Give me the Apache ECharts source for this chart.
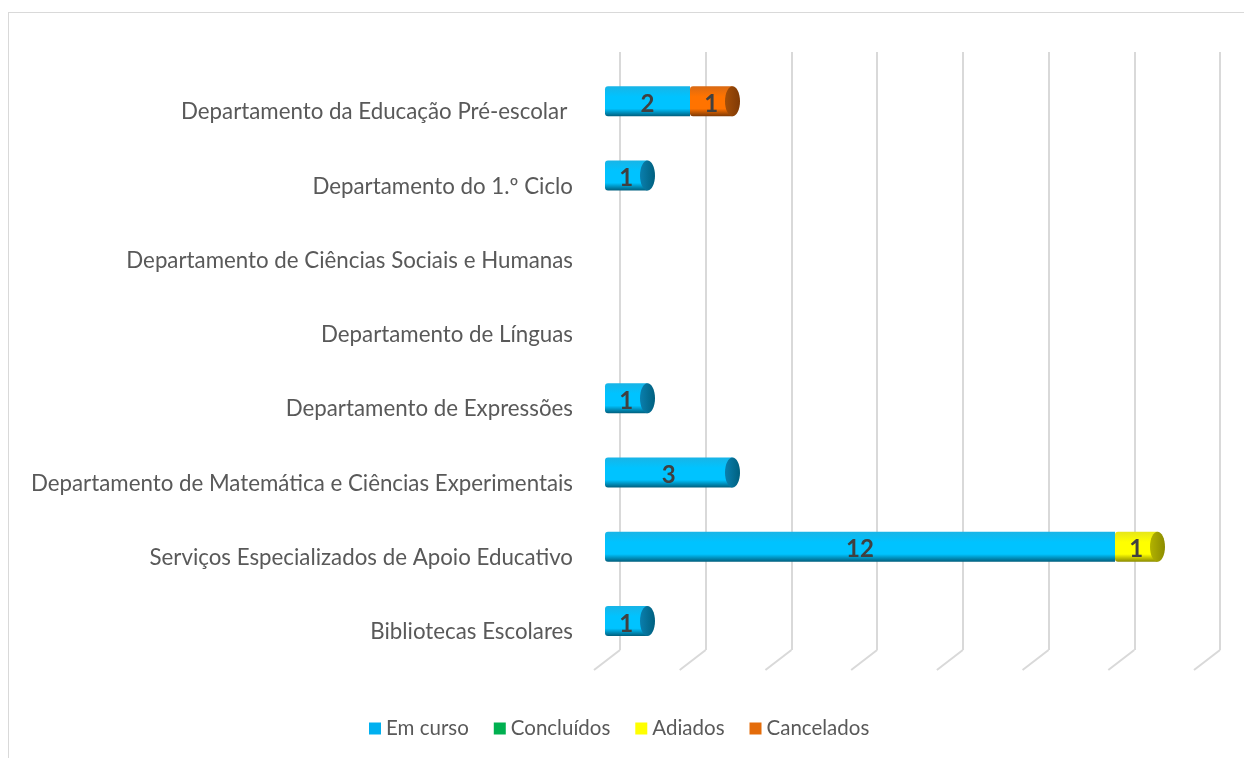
<!DOCTYPE html>
<html>
<head>
<meta charset="utf-8">
<script src="https://cdn.jsdelivr.net/npm/echarts@6/dist/echarts.min.js"></script>
<style>
  html, body { margin: 0; padding: 0; background: #fff; overflow: hidden; }
  #frame { position: absolute; left: 8px; top: 12px; width: 1400px; height: 900px; border: 1px solid #d9d9d9; box-sizing: border-box; }
  #main { position: absolute; left: 0; top: 0; width: 1244px; height: 758px; }
</style>
</head>
<body>
<div id="frame"></div>
<div id="main"></div>
<script>
const categories = [
  'Departamento da Educação Pré-escolar ',
  'Departamento do 1.º Ciclo',
  'Departamento de Ciências Sociais e Humanas',
  'Departamento de Línguas',
  'Departamento de Expressões',
  'Departamento de Matemática e Ciências Experimentais',
  'Serviços Especializados de Apoio Educativo',
  'Bibliotecas Escolares'
];
const seriesNames = ['Em curso', 'Concluídos', 'Adiados', 'Cancelados'];
const emCurso = [2, 1, 0, 0, 1, 3, 12, 1];
const concluidos = [0, 0, 0, 0, 0, 0, 0, 0];
const adiados = [0, 0, 0, 0, 0, 0, 1, 0];
const cancelados = [1, 0, 0, 0, 0, 0, 0, 0];
const gridTicks = [0, 2, 4, 6, 8, 10, 12, 14];

const FONT = 'Lato';
const FLAT = ['#00B0F0', '#00B050', '#FFFF00', '#E46C0A'];
const SHADE = [
  ['#19b4e6', '#00c3ff', '#00607f'],
  ['#19b060', '#00c85a', '#006030'],
  ['#e6e619', '#ffff00', '#8c8c00'],
  ['#d96a14', '#ff7300', '#803a05']
];
const CAP = ['#0a7fae', '#047a3a', '#b3b300', '#a34e08'];

function cyl(s) {
  return new echarts.graphic.LinearGradient(0, 0, 0, 1, [
    { offset: 0, color: s[0] },
    { offset: 0.35, color: s[1] },
    { offset: 0.75, color: s[1] },
    { offset: 1, color: s[2] }
  ]);
}

// end of each stack: total value and the colour of its last non-empty segment
const allSeries = [emCurso, concluidos, adiados, cancelados];
const caps = categories.map((c, i) => {
  let total = 0, last = -1;
  allSeries.forEach((arr, k) => { total += arr[i]; if (arr[i] > 0) last = k; });
  return [total, i, last];
}).filter(d => d[0] > 0);

const labelStyle = {
  show: true,
  position: 'inside',
  color: '#404040',
  fontFamily: FONT,
  fontWeight: 'bold',
  fontSize: 24,
  offset: [0, 3],
  formatter: p => (p.value ? String(p.value) : '')
};

function barSeries(k, data) {
  return {
    name: seriesNames[k],
    type: 'bar',
    stack: 'total',
    xAxisIndex: 0,
    yAxisIndex: 0,
    barWidth: 30,
    data: data,
    itemStyle: { color: cyl(SHADE[k]), borderRadius: [3, 0, 0, 3] },
    label: labelStyle,
    emphasis: { disabled: true },
    z: 2
  };
}

const chart = echarts.init(document.getElementById('main'));
chart.setOption({
  animation: false,
  backgroundColor: 'transparent',
  grid: [
    { left: 605, right: 44, top: 64, bottom: 100 },
    { left: 620, right: 24, top: 52, bottom: 108 }
  ],
  xAxis: [
    { gridIndex: 0, type: 'value', min: 0, max: 14, interval: 2, show: false },
    {
      gridIndex: 1, type: 'value', min: 0, max: 14, interval: 2,
      axisLine: { show: false }, axisTick: { show: false }, axisLabel: { show: false },
      splitLine: { show: true, lineStyle: { color: '#d9d9d9', width: 2 } }
    }
  ],
  yAxis: [
    {
      gridIndex: 0, type: 'category', inverse: true, data: categories,
      axisLine: { show: false }, axisTick: { show: false },
      axisLabel: {
        margin: 32, color: '#595959', fontFamily: FONT, fontSize: 22.3,
        verticalAlign: 'top', lineHeight: 22
      }
    },
    { gridIndex: 1, type: 'value', min: 0, max: 1, show: false }
  ],
  legend: {
    top: 713,
    left: 364,
    icon: 'rect',
    itemWidth: 12,
    itemHeight: 12,
    itemGap: 25,
    textStyle: { color: '#595959', fontFamily: FONT, fontSize: 20.5 },
    data: seriesNames.map((n, k) => ({ name: n, itemStyle: { color: FLAT[k] } }))
  },
  series: [
    {
      type: 'custom',
      xAxisIndex: 1,
      yAxisIndex: 1,
      silent: true,
      z: 0,
      data: gridTicks,
      renderItem: function (params, api) {
        const p = api.coord([api.value(0), 0]);
        return {
          type: 'line',
          shape: { x1: p[0], y1: p[1], x2: p[0] - 26, y2: p[1] + 20 },
          style: { stroke: '#d9d9d9', lineWidth: 2 }
        };
      }
    },
    barSeries(0, emCurso),
    barSeries(1, concluidos),
    barSeries(2, adiados),
    barSeries(3, cancelados),
    {
      type: 'custom',
      xAxisIndex: 0,
      yAxisIndex: 0,
      silent: true,
      z: 3,
      data: caps,
      renderItem: function (params, api) {
        const p = api.coord([api.value(0), api.value(1)]);
        const k = api.value(2);
        return {
          type: 'ellipse',
          shape: { cx: p[0], cy: p[1], rx: 7.5, ry: 15 },
          style: {
            fill: new echarts.graphic.LinearGradient(0, 0, 1, 0, [
              { offset: 0, color: CAP[k] },
              { offset: 1, color: SHADE[k][2] }
            ])
          }
        };
      }
    }
  ]
});
</script>
</body>
</html>
